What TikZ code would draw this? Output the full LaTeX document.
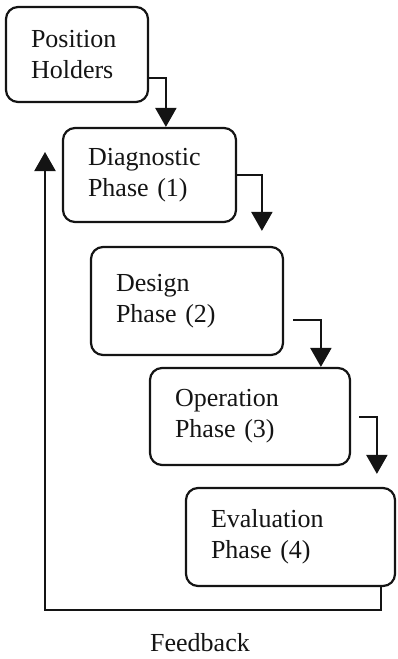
\documentclass[tikz,border=0pt]{standalone}
\usepackage{fontspec}
\setmainfont{Liberation Serif}
\usepackage{tikz}
\usetikzlibrary{arrows.meta}
\usetikzlibrary{positioning}
\definecolor{inchiostro}{RGB}{20,20,20}
\tikzset{
  waterfall/.style={
    phase/.style={draw=inchiostro, line width=2.2pt, rounded corners=12pt,
      align=left, inner xsep=25pt, text=inchiostro,
      font={\fontsize{26}{31}\selectfont}},
    flow/.style={draw=inchiostro, line width=2.2pt,
      -{Triangle[width=21pt,length=19pt]}},
    flow label/.style={text=inchiostro, inner sep=1pt,
      font={\fontsize{26}{31}\selectfont}}
  }
}

\begin{document}
\begin{tikzpicture}[waterfall, x=1pt, y=-1pt]
    \useasboundingbox (0,0) rectangle (397,659);

    % phases
    \node[phase, text width=92pt,  minimum height=95pt]  (holders) at (77,54.5)  {Position\\Holders};
    \node[phase, text width=123pt, minimum height=94pt]  (diag)    at (149.5,175) {Diagnostic\\Phase (1)};
    \node[phase, text width=142pt, minimum height=108pt] (design)  at (187,301)  {Design\\Phase (2)};
    \node[phase, text width=150pt, minimum height=97pt]  (oper)    at (250,416.5) {Operation\\Phase (3)};
    \node[phase, text width=159pt, minimum height=98pt]  (eval)    at (290.5,537) {Evaluation\\Phase (4)};

    % steps down
    \draw[flow] ([yshift=-23.5pt]holders.east) -| ([xshift=104pt]diag.north west);
    \draw[flow, shorten >=15pt] (diag.east) -| ([xshift=172pt]design.north west);
    \draw[flow, shorten <=9pt] ([yshift=-19pt]design.east) -| ([xshift=172pt]oper.north west);
    \draw[flow, shorten <=8pt, shorten >=13pt] ([yshift=-0.5pt]oper.east) -| ([xshift=192pt]eval.north west);

    % feedback loop
    \coordinate (fbcorner) at (45,610);
    \coordinate (fbend) at (45,152);
    \draw[flow] ([xshift=-15pt]eval.south east) |- (fbcorner) -- (fbend);
    \node[flow label] (feedback) at (200,643) {Feedback};
\end{tikzpicture}
\end{document}
